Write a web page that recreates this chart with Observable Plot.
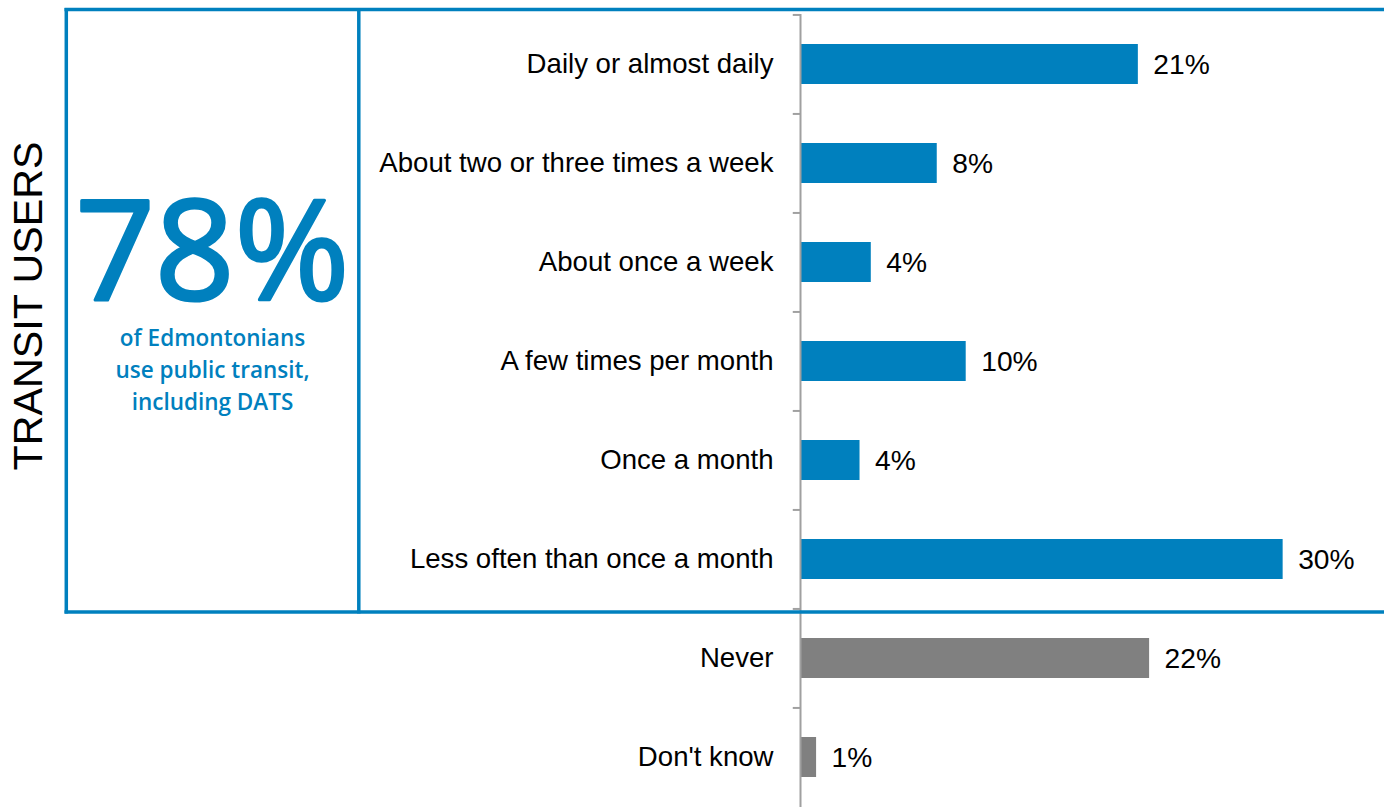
<!DOCTYPE html>
<html><head><meta charset="utf-8">
<script src="https://cdn.jsdelivr.net/npm/d3@7"></script>
<script src="https://cdn.jsdelivr.net/npm/@observablehq/plot@0.6"></script>
<style>
body{margin:0;background:#fff;}
#wrap{position:relative;width:1384px;height:807px;overflow:hidden;}
#chart{position:absolute;left:0;top:0;}
#deco{position:absolute;left:0;top:0;pointer-events:none;}
</style></head><body>
<div id="wrap"><div id="chart"></div><svg id="deco" width="1384" height="807"></svg></div>
<script>
const categories = ["Daily or almost daily","About two or three times a week","About once a week","A few times per month","Once a month","Less often than once a month","Never","Don't know"];
const values = [21.0, 8.5, 4.4, 10.3, 3.7, 30.0, 21.7, 1.0];
const valueLabels = ["21%","8%","4%","10%","4%","30%","22%","1%"];
const groups = ["user","user","user","user","user","user","non","non"];
const headline = "78%";
const headlineText = ["of Edmontonians","use public transit,","including DATS"];
const sideTitle = "TRANSIT USERS";

const BLUE = "#0080be", GRAY = "#808080", AXIS = "#a0a0a0";
const data = categories.map((c,i)=>({category:c, value:values[i], label:valueLabels[i], group:groups[i]}));

const H = 807, TOP = 14;
const step = (H - TOP) / categories.length;

const chart = Plot.plot({
  width:1384, height:H, marginLeft:800, marginRight:0, marginTop:TOP, marginBottom:0,
  style:{fontFamily:"'Liberation Sans', Arial, sans-serif", fontSize:"27.6px", color:"#000", background:"transparent", overflow:"visible"},
  x:{domain:[0,36.3], axis:null},
  y:{domain:categories, paddingInner:0.6, paddingOuter:0.3},
  color:{domain:["user","non"], range:[BLUE,GRAY]},
  marks:[
    Plot.barX(data,{x:"value", y:"category", fill:"group"}),
    Plot.text(data,{x:"value", y:"category", text:"label", textAnchor:"start", dx:15, fill:"#000", fontSize:28.2}),
    Plot.axisY({tickSize:0, tickPadding:27, fontSize:27.6, fill:"#000", label:null}),
    Plot.ruleY(categories,{y:d=>d, x1:-0.45, x2:0, dy:-step/2, stroke:AXIS, strokeWidth:2}),
    Plot.ruleX([0],{stroke:AXIS, strokeWidth:2})
  ]
});
document.getElementById("chart").appendChild(chart);

// decorative box and headline
const svg = d3.select("#deco");
const bw = 3.5;
svg.append("line").attr("x1",64.5).attr("x2",1384).attr("y1",9.5).attr("y2",9.5).attr("stroke",BLUE).attr("stroke-width",bw);
svg.append("line").attr("x1",64.5).attr("x2",1384).attr("y1",612).attr("y2",612).attr("stroke",BLUE).attr("stroke-width",bw);
svg.append("line").attr("x1",66.3).attr("x2",66.3).attr("y1",8).attr("y2",613.5).attr("stroke",BLUE).attr("stroke-width",bw);
svg.append("line").attr("x1",358.8).attr("x2",358.8).attr("y1",8).attr("y2",613.5).attr("stroke",BLUE).attr("stroke-width",bw);

svg.append("text").attr("transform","translate(42,306) rotate(-90)").attr("text-anchor","middle")
  .attr("font-family","'Liberation Sans', Arial, sans-serif").attr("font-size",41.2).attr("fill","#000").text(sideTitle);

const block = svg.append("text").attr("text-anchor","middle").attr("fill",BLUE)
  .attr("font-family","'Open Sans', sans-serif");
block.append("tspan").attr("x",212.5).attr("y",300).attr("font-size",139)
  .attr("stroke",BLUE).attr("stroke-width",3.2).attr("stroke-linejoin","round").text(headline);
headlineText.forEach((t,i)=>{
  block.append("tspan").attr("x",212.5).attr("y",345.5+i*32).attr("font-size",22.5)
    .attr("font-weight",600).text(t);
});
</script>
</body></html>
